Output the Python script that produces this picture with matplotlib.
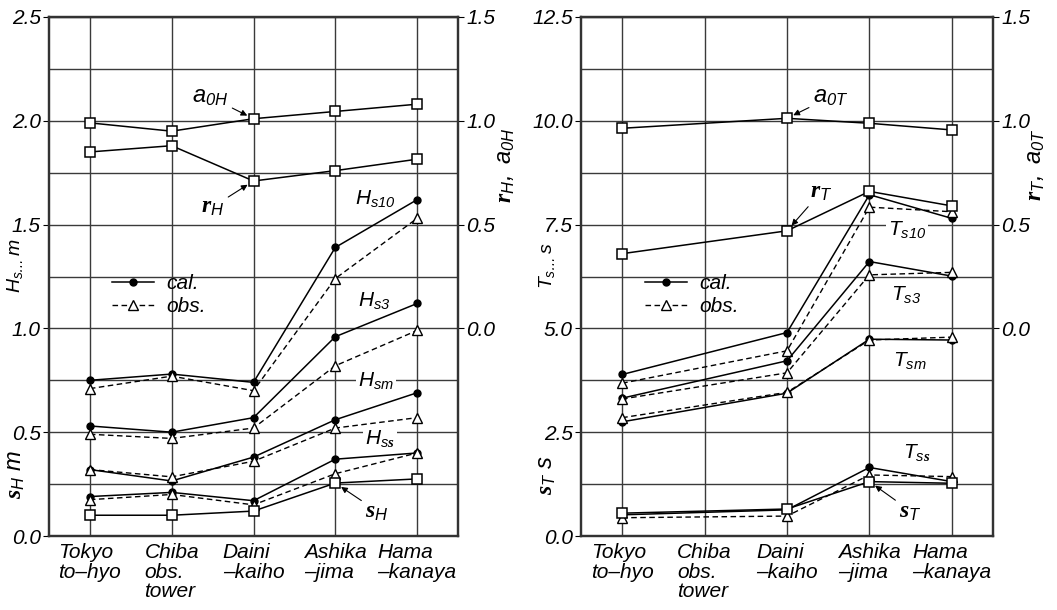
import matplotlib
matplotlib.use('Agg')
import matplotlib.pyplot as plt

plt.rcParams['font.family'] = 'Liberation Sans'
plt.rcParams['font.style'] = 'italic'
plt.rcParams['font.size'] = 15
plt.rcParams['mathtext.fontset'] = 'custom'
plt.rcParams['mathtext.it'] = 'Liberation Sans:italic'
plt.rcParams['mathtext.rm'] = 'Liberation Sans:italic'
plt.rcParams['mathtext.bf'] = 'Liberation Serif:bold:italic'

sites = ['Tokyo\nto\u2013hyo', 'Chiba\nobs.\ntower', 'Daini\n\u2013kaiho',
         'Ashika\n\u2013jima', 'Hama\n\u2013kanaya']
x_h = [0, 1, 2, 3, 4]
x_t = [0, 2, 3, 4]   # no period data at Chiba

# wave heights (m), left figure
hs10_cal = [0.75, 0.78, 0.74, 1.39, 1.62]
hs10_obs = [0.71, 0.77, 0.70, 1.24, 1.53]
hs3_cal = [0.53, 0.50, 0.57, 0.96, 1.12]
hs3_obs = [0.49, 0.47, 0.52, 0.82, 0.99]
hsm_cal = [0.32, 0.265, 0.38, 0.56, 0.69]
hsm_obs = [0.32, 0.285, 0.36, 0.52, 0.57]
hss_cal = [0.19, 0.21, 0.17, 0.37, 0.40]
hss_obs = [0.175, 0.20, 0.15, 0.30, 0.40]
sig_h = [0.10, 0.10, 0.12, 0.255, 0.275]
rho_h = [0.85, 0.88, 0.71, 0.76, 0.815]
a0_h = [0.99, 0.95, 1.01, 1.045, 1.08]

# wave periods (s), right figure
ts10_cal = [3.89, 4.90, 8.22, 7.65]
ts10_obs = [3.68, 4.46, 7.92, 7.81]
ts3_cal = [3.32, 4.22, 6.61, 6.26]
ts3_obs = [3.30, 3.93, 6.29, 6.35]
tsm_cal = [2.75, 3.44, 4.74, 4.72]
tsm_obs = [2.85, 3.46, 4.72, 4.79]
tss_cal = [0.51, 0.63, 1.65, 1.31]
tss_obs = [0.44, 0.48, 1.47, 1.43]
sig_t = [0.55, 0.65, 1.31, 1.27]
rho_t = [0.36, 0.47, 0.66, 0.59]
a0_t = [0.964, 1.012, 0.988, 0.956]

GRID = '#3a3a3a'
arrow = dict(arrowstyle='-|>', color='k', lw=0.8, mutation_scale=9,
             shrinkA=1, shrinkB=5)
white = dict(facecolor='white', edgecolor='none', pad=1.5)


def setup(ax, ymax, step):
    ax.set_xlim(-0.5, 4.5)
    ax.set_ylim(0, ymax)
    ax.set_yticks([i * step for i in range(6)])
    ax.set_yticks([i * step / 2 for i in range(11)], minor=True)
    ax.set_yticklabels(['%.1f' % (i * step) for i in range(6)])
    ax.grid(which='both', axis='y', color=GRID, lw=1.0)
    ax.set_xticks(range(5))
    ax.set_xticklabels(sites)
    ax.grid(axis='x', color=GRID, lw=1.0)
    ax.tick_params(axis='x', length=0, pad=5)
    ax.tick_params(axis='y', which='major', length=4, direction='out', pad=2)
    ax.tick_params(axis='y', which='minor', length=0)
    for lbl in ax.get_xticklabels():
        lbl.set_multialignment('left')
        lbl.set_linespacing(1.05)
    for sp in ax.spines.values():
        sp.set_linewidth(1.6)
        sp.set_color('#333333')
    tw = ax.twinx()
    tw.set_ylim(-1.0, 1.5)
    tw.set_yticks([0.0, 0.5, 1.0, 1.5])
    tw.set_yticklabels(['0.0', '0.5', '1.0', '1.5'])
    tw.tick_params(axis='y', length=4, direction='out', pad=2)
    for sp in tw.spines.values():
        sp.set_linewidth(1.6)
        sp.set_color('#333333')
    return tw


def pair(ax, x, cal, obs):
    l1, = ax.plot(x, cal, color='k', lw=1.1, marker='o', ms=5, zorder=3)
    l2, = ax.plot(x, obs, color='k', lw=1.0, ls=(0, (4, 2.5)), marker='^',
                  ms=7, mfc='white', mec='k', mew=1.0, zorder=3)
    return l1, l2


def squares(ax, x, y):
    ax.plot(x, y, color='k', lw=1.1, marker='s', ms=7, mfc='white',
            mec='k', mew=1.1, zorder=4)


fig = plt.figure(figsize=(10.57, 6.10), dpi=100)
ax1 = fig.add_axes([49 / 1057, 74 / 610, 409 / 1057, 519 / 610])
ax2 = fig.add_axes([581 / 1057, 74 / 610, 412 / 1057, 519 / 610])

# ---- left: wave height
tw1 = setup(ax1, 2.5, 0.5)
c, o = pair(ax1, x_h, hs10_cal, hs10_obs)
pair(ax1, x_h, hs3_cal, hs3_obs)
pair(ax1, x_h, hsm_cal, hsm_obs)
pair(ax1, x_h, hss_cal, hss_obs)
squares(ax1, x_h, sig_h)
squares(tw1, x_h, rho_h)
squares(tw1, x_h, a0_h)

ax1.legend([c, o], ['cal.', 'obs.'], loc='upper left', frameon=False,
           bbox_to_anchor=(0.155, 0.505), borderaxespad=0, borderpad=0,
           handlelength=2.0, handletextpad=0.6, labelspacing=0.2, numpoints=1)

ax1.text(3.49, 1.62, r'$H_{s10}$', ha='center', va='center', zorder=5)
ax1.text(3.47, 1.13, r'$H_{s3}$', ha='center', va='center', zorder=5)
ax1.text(3.50, 0.745, r'$H_{sm}$', ha='center', va='center', bbox=white, zorder=5)
ax1.text(3.55, 0.465, r'$H_{s\mathbf{s}}$', ha='center', va='center', bbox=white, zorder=5)
ax1.annotate(r'$\mathbf{s}_{H}$', xy=(3, sig_h[3]), xytext=(3.51, 0.12),
             ha='center', va='center', fontsize=17, arrowprops=arrow)
tw1.annotate(r'$a_{0H}$', xy=(2, a0_h[2]), xytext=(1.47, 1.115),
             ha='center', va='center', fontsize=17, arrowprops=arrow)
tw1.annotate(r'$\mathbf{r}_{H}$', xy=(2, rho_h[2]), xytext=(1.50, 0.585),
             ha='center', va='center', fontsize=17, arrowprops=arrow)

ax1.text(-0.083, 0.522, '$H_{s\u2026}\\,m$', transform=ax1.transAxes,
         rotation=90, ha='center', va='center', fontsize=14)
ax1.text(-0.083, 0.118, r'$\mathbf{s}_{H}\ m$', transform=ax1.transAxes,
         rotation=90, ha='center', va='center', fontsize=17)
ax1.text(1.115, 0.715, r'$\mathbf{r}_{H},\ a_{0H}$', transform=ax1.transAxes,
         rotation=90, ha='center', va='center', fontsize=17)

# ---- right: wave period
tw2 = setup(ax2, 12.5, 2.5)
c, o = pair(ax2, x_t, ts10_cal, ts10_obs)
pair(ax2, x_t, ts3_cal, ts3_obs)
pair(ax2, x_t, tsm_cal, tsm_obs)
pair(ax2, x_t, tss_cal, tss_obs)
squares(ax2, x_t, sig_t)
squares(tw2, x_t, rho_t)
squares(tw2, x_t, a0_t)

ax2.legend([c, o], ['cal.', 'obs.'], loc='upper left', frameon=False,
           bbox_to_anchor=(0.155, 0.505), borderaxespad=0, borderpad=0,
           handlelength=2.0, handletextpad=0.6, labelspacing=0.2, numpoints=1)

ax2.text(3.46, 7.37, r'$T_{s10}$', ha='center', va='center', bbox=white, zorder=5)
ax2.text(3.44, 5.80, r'$T_{s3}$', ha='center', va='center', zorder=5)
ax2.text(3.49, 4.21, r'$T_{sm}$', ha='center', va='center', zorder=5)
ax2.text(3.57, 2.00, r'$T_{s\mathbf{s}}$', ha='center', va='center', zorder=5)
ax2.annotate(r'$\mathbf{s}_{T}$', xy=(3, sig_t[2]), xytext=(3.50, 0.60),
             ha='center', va='center', fontsize=17, arrowprops=arrow)
tw2.annotate(r'$a_{0T}$', xy=(2, a0_t[1]), xytext=(2.53, 1.115),
             ha='center', va='center', fontsize=17, arrowprops=arrow)
tw2.annotate(r'$\mathbf{r}_{T}$', xy=(2, rho_t[1]), xytext=(2.42, 0.66),
             ha='center', va='center', fontsize=17, arrowprops=arrow)

ax2.text(-0.083, 0.522, '$T_{s\u2026}\\,s$', transform=ax2.transAxes,
         rotation=90, ha='center', va='center', fontsize=14)
ax2.text(-0.083, 0.118, r'$\mathbf{s}_{T}\ s$', transform=ax2.transAxes,
         rotation=90, ha='center', va='center', fontsize=17)
ax2.text(1.102, 0.715, r'$\mathbf{r}_{T},\ a_{0T}$', transform=ax2.transAxes,
         rotation=90, ha='center', va='center', fontsize=17)

fig.savefig('out.png', dpi=100)
